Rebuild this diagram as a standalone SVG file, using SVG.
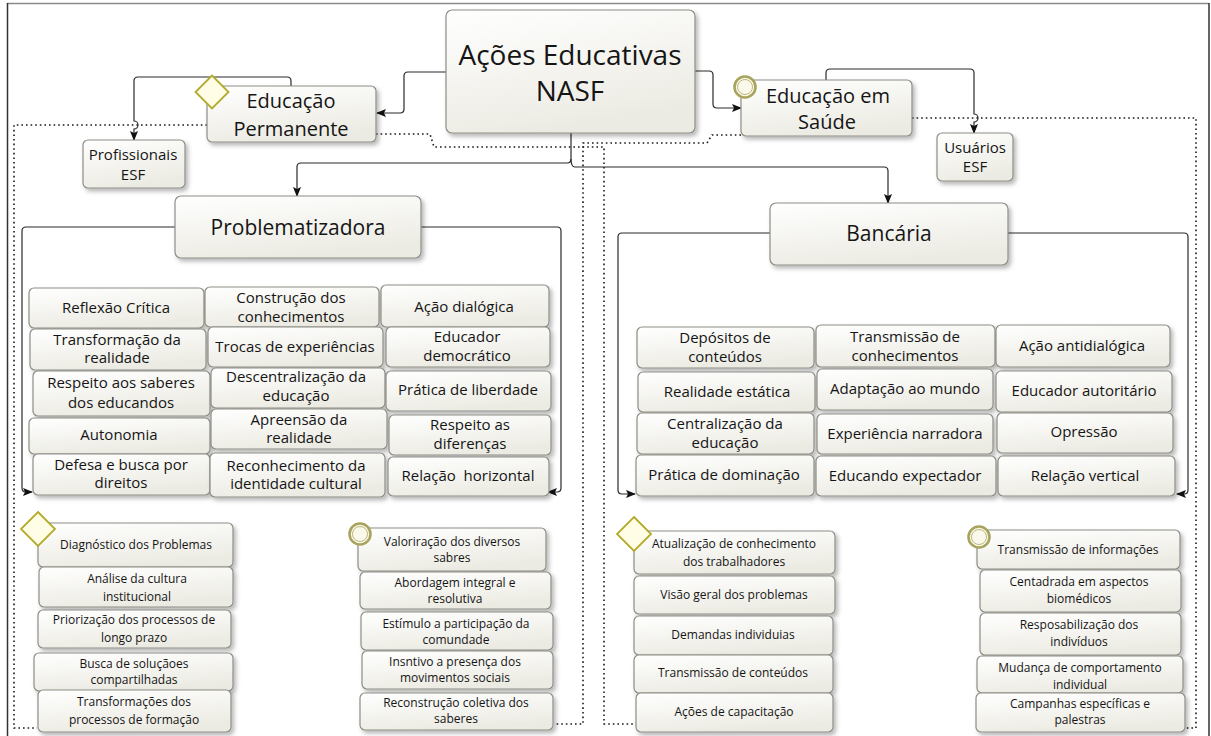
<svg xmlns="http://www.w3.org/2000/svg" width="1211" height="736" viewBox="0 0 1211 736">
<defs>
<linearGradient id="g" x1="0" y1="0" x2="0.35" y2="1">
<stop offset="0" stop-color="#ffffff"/>
<stop offset="1" stop-color="#ecebe3"/>
</linearGradient>
<filter id="sh" x="-10%" y="-10%" width="130%" height="140%">
<feDropShadow dx="2.5" dy="3" stdDeviation="2" flood-color="#000" flood-opacity="0.28"/>
</filter>
<marker id="ah" markerWidth="10" markerHeight="8" refX="9" refY="4" orient="auto" markerUnits="userSpaceOnUse">
<path d="M0,0 L10,4 L0,8 L2,4 z" fill="#111"/>
</marker>
</defs>
<style>
.b{fill:url(#g);stroke:#8e8e86;stroke-width:1.2;filter:url(#sh)}
.t{font-family:"Open Sans","Noto Sans",sans-serif;fill:#151515;text-anchor:middle}
.s15{font-size:15px}
.s12{font-size:12px}
.s20{font-size:20px}
.c{fill:none;stroke:#2a2a2a;stroke-width:1.2}
.d{fill:none;stroke:#1a1a1a;stroke-width:1.6;stroke-dasharray:1.6 3}
.dia{fill:#fffde6;stroke:#b3ab2c;stroke-width:1.8}
.ro{fill:#faf9ec;stroke:#a8a45e;stroke-width:2.6}
.ri{fill:none;stroke:#bdb97a;stroke-width:1}
</style>
<rect width="1211" height="736" fill="#fff"/>
<g id="frame">
<line x1="7" y1="3.5" x2="1209" y2="3.5" stroke="#8a8a8a" stroke-width="1.5"/>
<line x1="7.5" y1="3" x2="7.5" y2="736" stroke="#333" stroke-width="1.5"/>
<line x1="1209" y1="3" x2="1209" y2="736" stroke="#333" stroke-width="1.5"/>
</g>
<g id="connectors">
<path class="d" d="M207,125 H14 V728 H37"/>
<path class="d" d="M376,134 H430 L434,147 H604 V724 H634"/>
<path class="d" d="M741,135 H712 L707,143 H583 V724 H555"/>
<path class="d" d="M912,118 H1196 V728 H1186"/>
<path class="c" marker-end="url(#ah)" d="M446,72 H408 Q404,72 404,76 V109 Q404,113 400,113 H377"/>
<path class="c" marker-end="url(#ah)" d="M695,71 H709 Q713,71 713,75 V104 Q713,108 717,108 H741"/>
<path class="c" marker-end="url(#ah)" d="M291,86 V81 Q291,77 287,77 H138 Q134,77 134,81 V121 A4,4 0 0 1 134,129 V140"/>
<path class="c" marker-end="url(#ah)" d="M826,80 V73 Q826,69 830,69 H970 Q974,69 974,73 V114 A4,4 0 0 1 974,122 V133"/>
<path class="c" marker-end="url(#ah)" d="M571,133 V159 Q571,163 567,163 H301 Q297,163 297,167 V196"/>
<path class="c" marker-end="url(#ah)" d="M571,159 Q571,167 575,167 H884 Q888,167 888,171 V203"/>
<path class="c" marker-end="url(#ah)" d="M175,227 H26 Q22,227 22,231 V488 Q22,492 26,492 H32"/>
<path class="c" marker-end="url(#ah)" d="M421,227 H557 Q561,227 561,231 V488 Q561,492 557,492 H548"/>
<path class="c" marker-end="url(#ah)" d="M770,233 H622 Q618,233 618,237 V490 Q618,494 622,494 H635"/>
<path class="c" marker-end="url(#ah)" d="M1008,233 H1184 Q1188,233 1188,237 V490 Q1188,494 1184,494 H1177"/>
</g>
<g id="n-main"><rect class="b" x="446" y="10" width="249" height="123" rx="6"/>
<text class="t" x="570" y="65" font-size="28">Ações Educativas</text>
<text class="t" x="570" y="101" font-size="28">NASF</text></g>
<g id="n-ep"><rect class="b" x="207" y="86" width="169" height="56" rx="5"/>
<text class="t s20" x="291" y="108">Educação</text>
<text class="t s20" x="291" y="136">Permanente</text>
<path class="dia" d="M212,75.5 L228.5,92 L212,108.5 L195.5,92 z"/></g>
<g id="n-eds"><rect class="b" x="741" y="80" width="171" height="56" rx="5"/>
<text class="t s20" x="828" y="103">Educação em</text>
<text class="t s20" x="827" y="129">Saúde</text>
<circle class="ro" cx="745" cy="87" r="10.5"/><circle class="ri" cx="745" cy="87" r="7.5"/></g>
<g id="n-prof"><rect class="b" x="83" y="140" width="102" height="48" rx="5"/>
<text class="t s15" x="133" y="160">Profissionais</text>
<text class="t s15" x="133" y="180">ESF</text></g>
<g id="n-usu"><rect class="b" x="937" y="133" width="76" height="48" rx="5"/>
<text class="t s15" x="975" y="153">Usuários</text>
<text class="t s15" x="975" y="172">ESF</text></g>
<g id="n-prob"><rect class="b" x="175" y="196" width="246" height="62" rx="6"/>
<text class="t" x="298" y="235" font-size="21">Problematizadora</text></g>
<g id="n-banc"><rect class="b" x="770" y="203" width="238" height="62" rx="6"/>
<text class="t" x="889" y="241" font-size="21">Bancária</text></g>
<g id="p1"><rect class="b" x="29" y="288" width="175" height="40" rx="5"/><text class="t s15" x="116" y="313">Reflexão Crítica</text></g>
<g id="p2"><rect class="b" x="205" y="287" width="174" height="40" rx="5"/><text class="t s15" x="291" y="303">Construção dos</text><text class="t s15" x="291" y="322">conhecimentos</text></g>
<g id="p3"><rect class="b" x="381" y="285" width="168" height="42" rx="5"/><text class="t s15" x="464" y="312">Ação dialógica</text></g>
<g id="p4"><rect class="b" x="30" y="329" width="176" height="41" rx="5"/><text class="t s15" x="117" y="345">Transformação da</text><text class="t s15" x="117" y="363">realidade</text></g>
<g id="p5"><rect class="b" x="208" y="327" width="175" height="40" rx="5"/><text class="t s15" x="295" y="352">Trocas de experiências</text></g>
<g id="p6"><rect class="b" x="386" y="327" width="164" height="40" rx="5"/><text class="t s15" x="467" y="342">Educador</text><text class="t s15" x="467" y="361">democrático</text></g>
<g id="p7"><rect class="b" x="33" y="371" width="177" height="45" rx="5"/><text class="t s15" x="121" y="388">Respeito aos saberes</text><text class="t s15" x="121" y="408">dos educandos</text></g>
<g id="p8"><rect class="b" x="211" y="368" width="174" height="40" rx="5"/><text class="t s15" x="296" y="382">Descentralização da</text><text class="t s15" x="296" y="401">educação</text></g>
<g id="p9"><rect class="b" x="386" y="371" width="165" height="40" rx="5"/><text class="t s15" x="468" y="395">Prática de liberdade</text></g>
<g id="p10"><rect class="b" x="29" y="418" width="181" height="36" rx="5"/><text class="t s15" x="119" y="440">Autonomia</text></g>
<g id="p11"><rect class="b" x="211" y="409" width="176" height="40" rx="5"/><text class="t s15" x="299" y="425">Apreensão da</text><text class="t s15" x="299" y="443">realidade</text></g>
<g id="p12"><rect class="b" x="389" y="415" width="162" height="40" rx="5"/><text class="t s15" x="470" y="430">Respeito as</text><text class="t s15" x="470" y="449">diferenças</text></g>
<g id="p13"><rect class="b" x="33" y="454" width="177" height="41" rx="5"/><text class="t s15" x="121" y="470">Defesa e busca por</text><text class="t s15" x="121" y="488">direitos</text></g>
<g id="p14"><rect class="b" x="210" y="453" width="175" height="44" rx="5"/><text class="t s15" x="296" y="471">Reconhecimento da</text><text class="t s15" x="296" y="489">identidade cultural</text></g>
<g id="p15"><rect class="b" x="388" y="457" width="161" height="39" rx="5"/><text class="t s15" x="468" y="481" style="white-space:pre">Relação  horizontal</text></g>
<g id="b1"><rect class="b" x="637" y="327" width="177" height="41" rx="5"/><text class="t s15" x="725" y="343">Depósitos de</text><text class="t s15" x="725" y="362">conteúdos</text></g>
<g id="b2"><rect class="b" x="816" y="325" width="179" height="42" rx="5"/><text class="t s15" x="905" y="342">Transmissão de</text><text class="t s15" x="905" y="361">conhecimentos</text></g>
<g id="b3"><rect class="b" x="996" y="325" width="174" height="42" rx="5"/><text class="t s15" x="1082" y="351">Ação antidialógica</text></g>
<g id="b4"><rect class="b" x="638" y="372" width="177" height="40" rx="5"/><text class="t s15" x="727" y="397">Realidade estática</text></g>
<g id="b5"><rect class="b" x="817" y="369" width="176" height="41" rx="5"/><text class="t s15" x="905" y="394">Adaptação ao mundo</text></g>
<g id="b6"><rect class="b" x="996" y="371" width="176" height="41" rx="5"/><text class="t s15" x="1084" y="396">Educador autoritário</text></g>
<g id="b7"><rect class="b" x="637" y="413" width="177" height="41" rx="5"/><text class="t s15" x="725" y="429">Centralização da</text><text class="t s15" x="725" y="448">educação</text></g>
<g id="b8"><rect class="b" x="817" y="414" width="176" height="40" rx="5"/><text class="t s15" x="905" y="439">Experiência narradora</text></g>
<g id="b9"><rect class="b" x="997" y="413" width="176" height="40" rx="5"/><text class="t s15" x="1084" y="437">Opressão</text></g>
<g id="b10"><rect class="b" x="636" y="455" width="178" height="41" rx="5"/><text class="t s15" x="724" y="480">Prática de dominação</text></g>
<g id="b11"><rect class="b" x="816" y="456" width="180" height="40" rx="5"/><text class="t s15" x="905" y="481">Educando expectador</text></g>
<g id="b12"><rect class="b" x="998" y="456" width="177" height="40" rx="5"/><text class="t s15" x="1085" y="481">Relação vertical</text></g>
<g id="l1"><rect class="b" x="38" y="523" width="195" height="44" rx="5"/><text class="t s12" x="136" y="549">Diagnóstico dos Problemas</text></g>
<g id="l2"><rect class="b" x="39" y="567" width="194" height="40" rx="5"/><text class="t s12" x="137" y="583">Análise da cultura</text><text class="t s12" x="137" y="601">institucional</text></g>
<g id="l3"><rect class="b" x="38" y="610" width="193" height="38" rx="5"/><text class="t s12" x="134" y="624">Priorização dos processos de</text><text class="t s12" x="134" y="642">longo prazo</text></g>
<g id="l4"><rect class="b" x="34" y="653" width="199" height="38" rx="5"/><text class="t s12" x="134" y="668">Busca de soluçãoes</text><text class="t s12" x="134" y="684">compartilhadas</text></g>
<g id="l5"><rect class="b" x="38" y="690" width="193" height="42" rx="5"/><text class="t s12" x="134" y="706">Transformações dos</text><text class="t s12" x="134" y="724">processos de formação</text></g>
<g id="l-icon"><path class="dia" d="M38,512 L55,529 L38,546 L21,529 z"/></g>
<g id="m1"><rect class="b" x="358" y="528" width="188" height="43" rx="5"/><text class="t s12" x="452" y="546">Valoriração dos diversos</text><text class="t s12" x="452" y="562">sabres</text></g>
<g id="m2"><rect class="b" x="360" y="572" width="191" height="37" rx="5"/><text class="t s12" x="455" y="587">Abordagem integral e</text><text class="t s12" x="455" y="603">resolutiva</text></g>
<g id="m3"><rect class="b" x="361" y="612" width="192" height="38" rx="5"/><text class="t s12" x="456" y="628">Estímulo a participação da</text><text class="t s12" x="456" y="644">comundade</text></g>
<g id="m4"><rect class="b" x="362" y="651" width="191" height="38" rx="5"/><text class="t s12" x="455" y="666">Insntivo a presença dos</text><text class="t s12" x="455" y="682">movimentos sociais</text></g>
<g id="m5"><rect class="b" x="360" y="693" width="193" height="37" rx="5"/><text class="t s12" x="456" y="707">Reconstrução coletiva dos</text><text class="t s12" x="456" y="723">saberes</text></g>
<g id="m-icon"><circle class="ro" cx="360" cy="534" r="10.5"/><circle class="ri" cx="360" cy="534" r="7.5"/></g>
<g id="r1"><rect class="b" x="634" y="531" width="201" height="43" rx="5"/><text class="t s12" x="734" y="548">Atualização de conhecimento</text><text class="t s12" x="734" y="566">dos trabalhadores</text></g>
<g id="r2"><rect class="b" x="634" y="576" width="201" height="38" rx="5"/><text class="t s12" x="734" y="599">Visão geral dos problemas</text></g>
<g id="r3"><rect class="b" x="634" y="616" width="199" height="39" rx="5"/><text class="t s12" x="733" y="639">Demandas individuias</text></g>
<g id="r4"><rect class="b" x="634" y="655" width="199" height="38" rx="5"/><text class="t s12" x="733" y="677">Transmissão de conteúdos</text></g>
<g id="r5"><rect class="b" x="636" y="693" width="197" height="39" rx="5"/><text class="t s12" x="734" y="716">Ações de capacitação</text></g>
<g id="r-icon"><path class="dia" d="M634,517 L651,534 L634,551 L617,534 z"/></g>
<g id="f1"><rect class="b" x="977" y="530" width="203" height="39" rx="5"/><text class="t s12" x="1078" y="554">Transmissão de informações</text></g>
<g id="f2"><rect class="b" x="980" y="570" width="201" height="42" rx="5"/><text class="t s12" x="1079" y="586">Centadrada em aspectos</text><text class="t s12" x="1079" y="603">biomédicos</text></g>
<g id="f3"><rect class="b" x="980" y="613" width="201" height="42" rx="5"/><text class="t s12" x="1079" y="629">Resposabilização dos</text><text class="t s12" x="1079" y="646">indivíduos</text></g>
<g id="f4"><rect class="b" x="977" y="656" width="206" height="37" rx="5"/><text class="t s12" x="1080" y="672">Mudança de comportamento</text><text class="t s12" x="1080" y="689">individual</text></g>
<g id="f5"><rect class="b" x="976" y="693" width="209" height="39" rx="5"/><text class="t s12" x="1080" y="708">Campanhas específicas e</text><text class="t s12" x="1080" y="724">palestras</text></g>
<g id="f-icon"><circle class="ro" cx="979" cy="537" r="10.5"/><circle class="ri" cx="979" cy="537" r="7.5"/></g>
</svg>
